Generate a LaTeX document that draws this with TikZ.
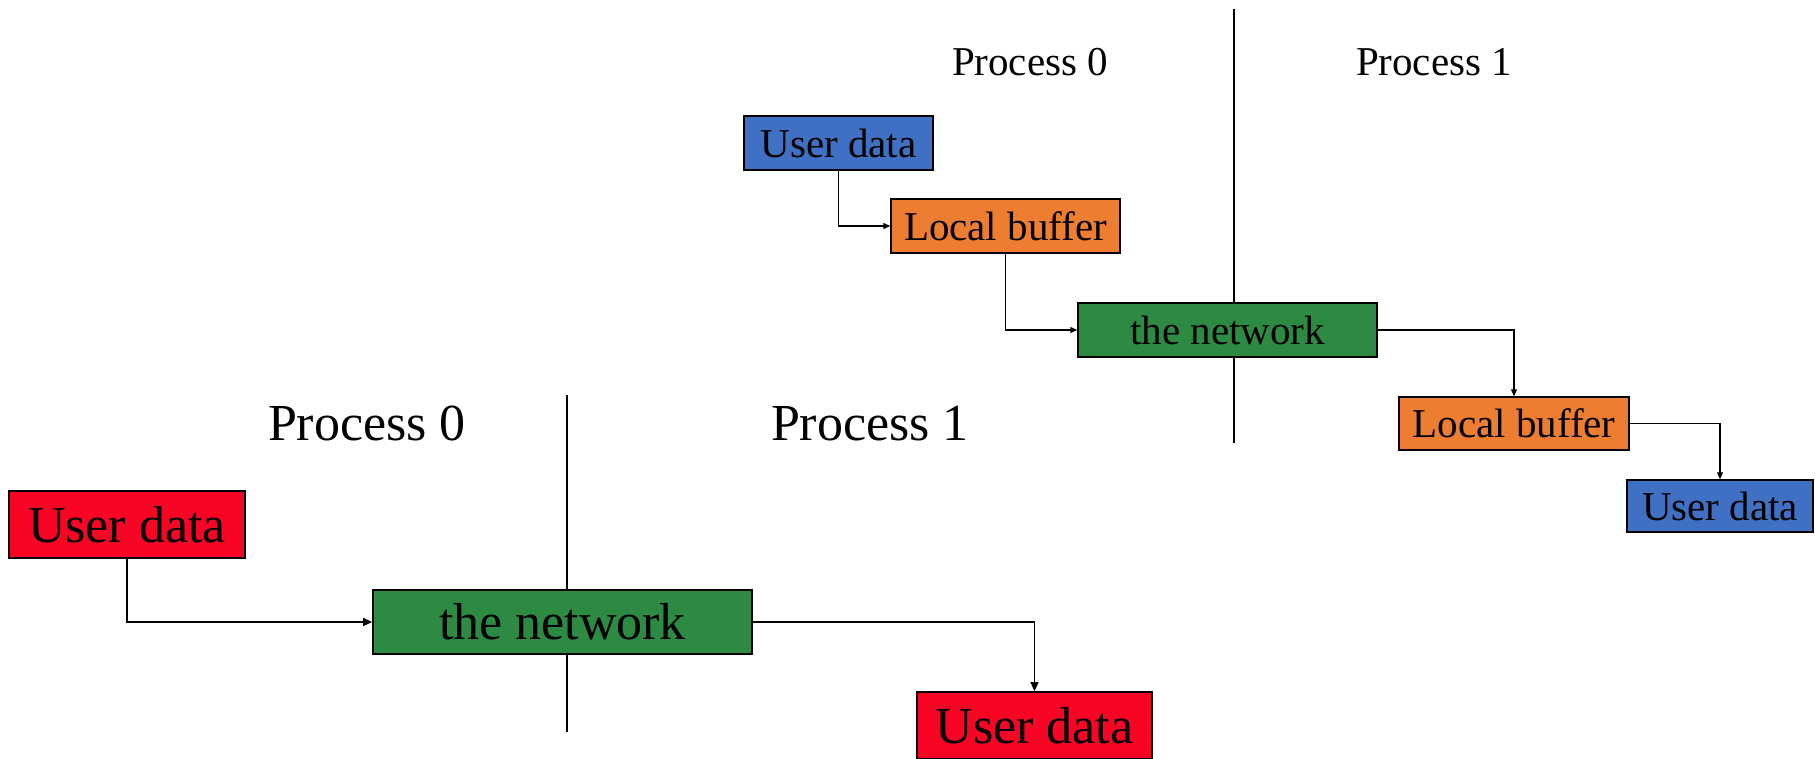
\documentclass[tikz,border=0pt]{standalone}
\usepackage{fontspec}
\setmainfont{Liberation Serif}
\usetikzlibrary{arrows.meta}
\definecolor{ublue}{HTML}{3F70C4}
\definecolor{uorange}{HTML}{ED7D31}
\definecolor{ugreen}{HTML}{2C8A43}
\definecolor{ured}{HTML}{F80526}
\tikzset{
  smallbox/.style={draw=black, line width=1.5pt, inner sep=0pt, font=\fontsize{41}{49}\selectfont},
  bigbox/.style={draw=black, line width=1.8pt, inner sep=0pt, font=\fontsize{52}{62}\selectfont},
  smallarrow/.style={line width=1.3pt, -{Triangle[length=7pt,width=6pt]}},
  bigarrow/.style={line width=1.6pt, -{Triangle[length=9pt,width=8pt]}},
  divider/.style={line width=1.6pt},
  smalllabel/.style={anchor=base, font=\fontsize{41}{49}\selectfont},
  biglabel/.style={anchor=base, font=\fontsize{52}{62}\selectfont},
}
\begin{document}
\begin{tikzpicture}[x=1pt, y=-1pt]
\useasboundingbox (0,0) rectangle (1815,758);
% ---------- top diagram ----------
\coordinate (tv1) at (1234,9);
\coordinate (tv2) at (1234,443);
\draw[divider] (tv1) -- (tv2);
\node[smalllabel] (tp0) at (1030,75) {Process 0};
\node[smalllabel] (tp1) at (1434,75) {Process 1};
\node[smallbox, fill=ublue, minimum width=189pt, minimum height=54pt] (ud1) at (838.5,143) {User data};
\node[smallbox, fill=uorange, minimum width=229pt, minimum height=54pt] (lb1) at (1005.5,226) {Local buffer};
\node[smallbox, fill=ugreen, minimum width=299pt, minimum height=54pt] (net1) at (1227.5,330) {the network};
\node[smallbox, fill=uorange, minimum width=230pt, minimum height=53pt] (lb2) at (1514,423.5) {Local buffer};
\node[smallbox, fill=ublue, minimum width=186pt, minimum height=52pt] (ud2) at (1720,506) {User data};
\draw[smallarrow] (ud1.south) |- (lb1.west);
\draw[smallarrow] (lb1.south) |- (net1.west);
\draw[smallarrow] (net1.east) -| (lb2.north);
\draw[smallarrow] (lb2.east) -| (ud2.north);
% ---------- bottom diagram ----------
\coordinate (bv1) at (567,395);
\coordinate (bv2) at (567,732);
\draw[divider] (bv1) -- (bv2);
\node[biglabel] (bp0) at (367,440) {Process 0};
\node[biglabel] (bp1) at (870,440) {Process 1};
\node[bigbox, fill=ured, minimum width=236pt, minimum height=67pt] (rud1) at (127,524.5) {User data};
\node[bigbox, fill=ugreen, minimum width=379pt, minimum height=64pt] (net2) at (562.5,622) {the network};
\node[bigbox, fill=ured, minimum width=235pt, minimum height=67pt] (rud2) at (1034.5,725.5) {User data};
\draw[bigarrow] (rud1.south) |- (net2.west);
\draw[bigarrow] (net2.east) -| (rud2.north);
\end{tikzpicture}
\end{document}
